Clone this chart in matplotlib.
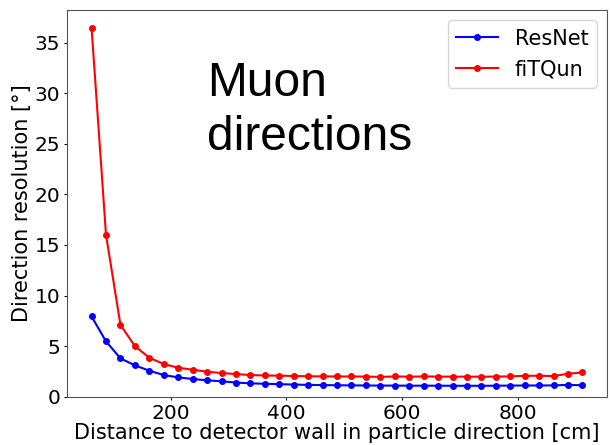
import numpy as np
import matplotlib
matplotlib.use('Agg')
import matplotlib.pyplot as plt

# Wall distance bins [cm] (bin centres)
distance = np.arange(62.5, 925, 25)

# Direction resolution [deg] per bin
resnet = [7.93, 5.47, 3.79, 3.10, 2.57, 2.14, 1.91, 1.75, 1.62, 1.52,
          1.40, 1.32, 1.28, 1.24, 1.20, 1.17, 1.15, 1.13, 1.12, 1.11,
          1.10, 1.10, 1.09, 1.09, 1.09, 1.08, 1.08, 1.08, 1.09, 1.10,
          1.11, 1.11, 1.12, 1.17, 1.13]
fitqun = [36.45, 16.0, 7.1, 5.0, 3.85, 3.23, 2.86, 2.67, 2.47, 2.34,
          2.24, 2.14, 2.10, 2.08, 2.05, 2.02, 2.01, 2.00, 2.00, 1.99,
          1.96, 2.00, 1.98, 2.00, 1.99, 1.98, 1.98, 1.98, 1.99, 2.01,
          2.07, 2.07, 2.04, 2.27, 2.40]

fig = plt.figure(figsize=(6.11, 4.45), dpi=100)
ax = fig.add_axes([0.1097, 0.1085, 0.8838, 0.869])

ax.plot(distance, resnet, color='blue', marker='o', markersize=4, linewidth=1.5, label='ResNet')
ax.plot(distance, fitqun, color='red', marker='o', markersize=4, linewidth=1.5, label='fiTQun')
ax.set_ylim(bottom=0)

ax.tick_params(labelsize=14.5, length=2.5, pad=2.5)
ax.set_xlabel('Distance to detector wall in particle direction [cm]', fontsize=15, labelpad=0)
ax.set_ylabel('Direction resolution [°]', fontsize=15, labelpad=2)
for s in ax.spines.values():
    s.set_color('#555555')

ax.legend(loc='upper right', fontsize=15)

ax.text(0.259, 0.741, 'Muon\ndirections', transform=ax.transAxes, fontsize=34.5,
        family='Liberation Sans', va='center', ha='left', linespacing=1.26)

fig.savefig('out.png', dpi=100)
